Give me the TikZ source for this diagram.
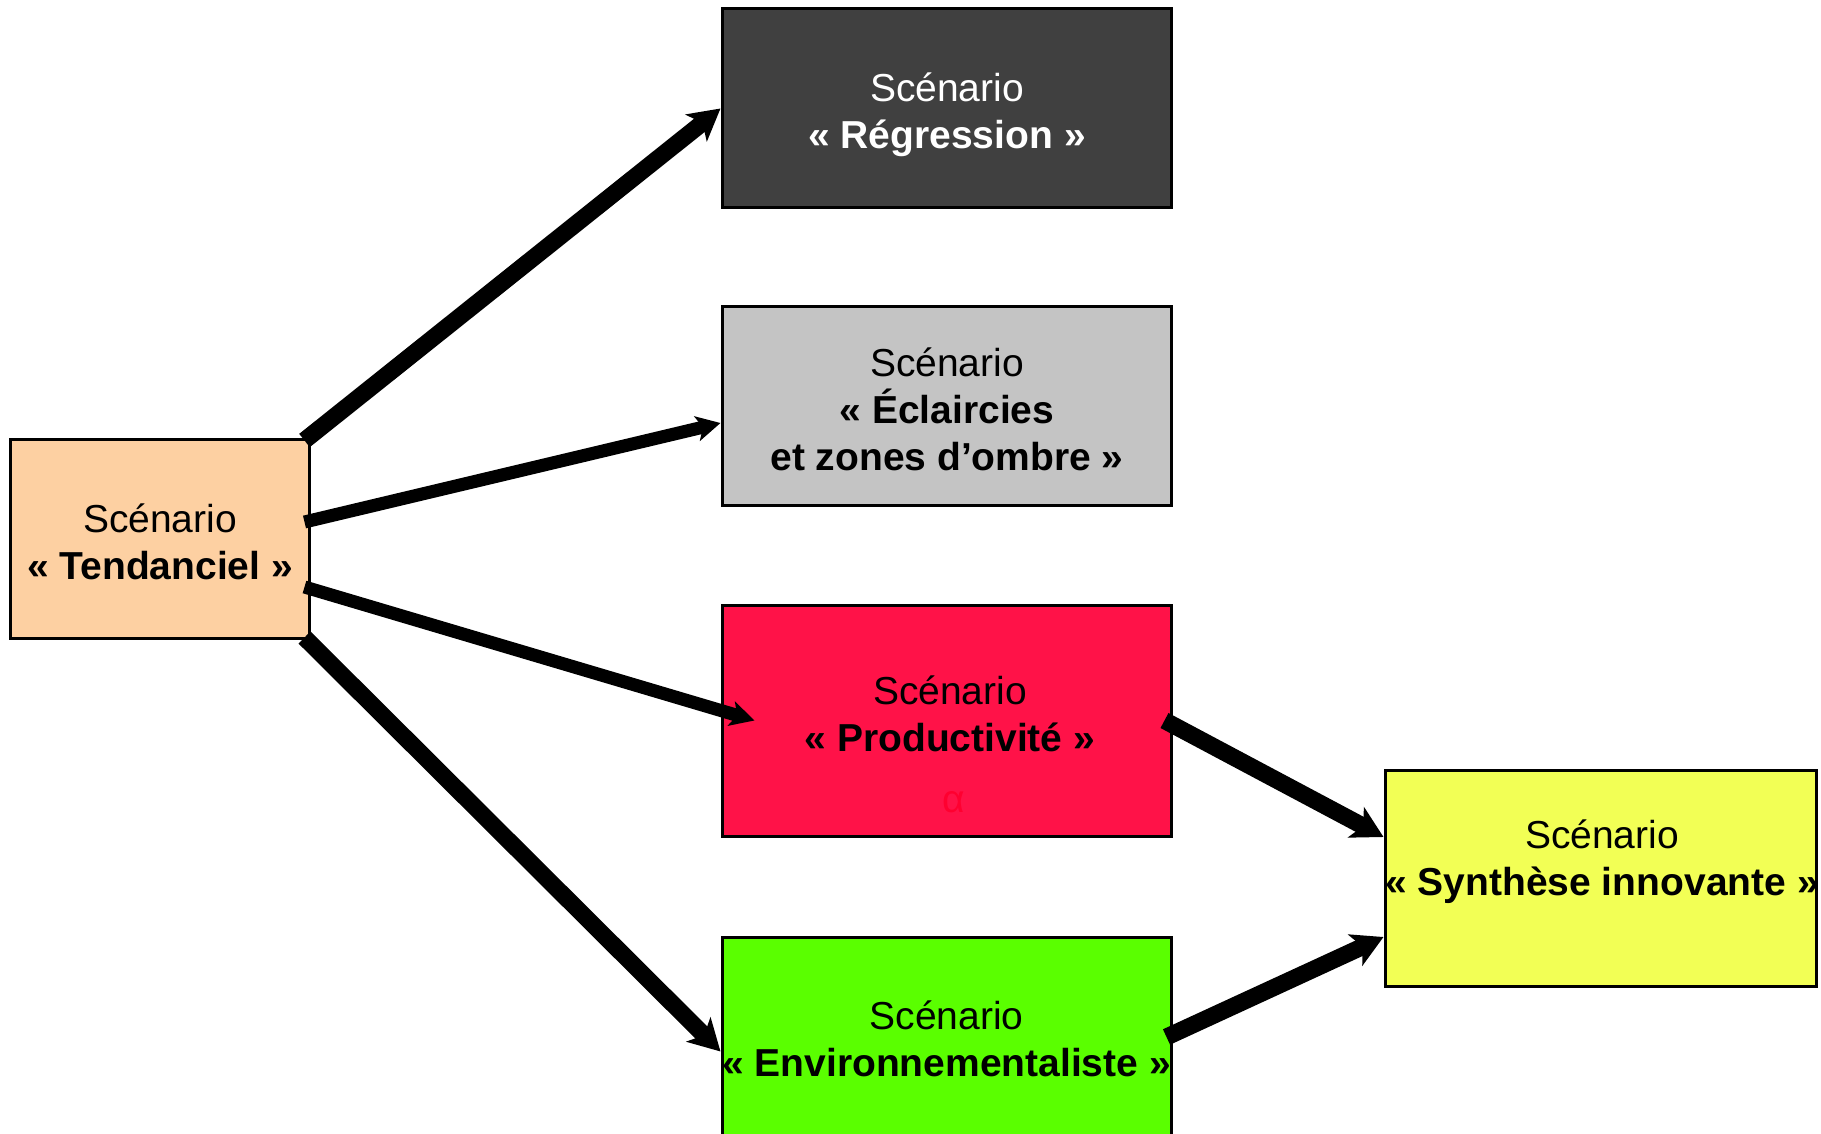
\documentclass[tikz,border=0pt]{standalone}
\usepackage{fontspec}
\setmainfont{Liberation Sans}
\usetikzlibrary{arrows.meta,calc}
\definecolor{tendfill}{RGB}{253,208,162}
\definecolor{regfill}{RGB}{64,64,64}
\definecolor{eclfill}{RGB}{196,196,196}
\definecolor{prodfill}{RGB}{255,18,72}
\definecolor{envfill}{RGB}{90,255,0}
\definecolor{synfill}{RGB}{242,255,85}
\definecolor{alphared}{RGB}{255,0,48}
\tikzset{
  box/.style={draw=black, line width=1.5pt, rectangle, inner sep=0pt},
  txt/.style={inner sep=0pt, align=center, font=\fontsize{19.5pt}{23.5pt}\selectfont},
  thickarrow/.style={line width=8.5pt, -{Stealth[length=15.5pt,width=17pt,inset=4pt]}},
  thinarrow/.style={line width=6.5pt, -{Stealth[length=12pt,width=12.5pt,inset=3pt]}}
}
\begin{document}
\begin{tikzpicture}[x=0.5pt,y=-0.5pt]
\useasboundingbox (0,0) rectangle (1821,1134);
\clip (0,0) rectangle (1821,1134);
\fill[white] (0,0) rectangle (1821,1134);
% boxes
\node[box, fill=tendfill, minimum width=149.5pt, minimum height=99.5pt] (tend) at (159.5,538.5) {};
\node[box, fill=regfill, minimum width=224.5pt, minimum height=99.5pt] (reg) at (946.5,108.5) {};
\node[box, fill=eclfill, minimum width=224.5pt, minimum height=99pt] (ecl) at (946.5,406) {};
\node[box, fill=prodfill, minimum width=224.5pt, minimum height=115.5pt] (prod) at (946.5,720.5) {};
\node[box, fill=envfill, minimum width=224.5pt, minimum height=115.5pt] (env) at (946.5,1052.5) {};
\node[box, fill=synfill, minimum width=215.5pt, minimum height=108pt] (syn) at (1600.5,878) {};
% texts
\node[txt] (tendtxt) at (160,542) {Scénario\\\textbf{«~Tendanciel~»}};
\node[txt, text=white] (regtxt) at (947,115) {Scénario\\\textbf{«~Régression~»}};
\node[txt] (ecltxt) at (947,409) {Scénario\\\textbf{«~Éclaircies}\\\textbf{et zones d’ombre~»}};
\node[txt] (prodtxt) at (950,714) {Scénario\\\textbf{«~Productivité~»}};
\node[txt, text=alphared] (alpha) at (954,802) {α};
\node[txt] (envtxt) at (946.5,1039) {Scénario\\\textbf{«~Environnementaliste~»}};
\node[txt] (syntxt) at (1602,862) {Scénario\\\textbf{«~Synthèse innovante~»}};
% arrows
\draw[thickarrow] ($(tend.north east)+(-6,3)$) -- (reg.west);
\draw[thinarrow] ($(tend.east)+(-6,-16.5)$) -- ($(ecl.west)+(0,17)$);
\draw[thinarrow] ($(tend.east)+(-6,48.5)$) -- ($(prod.west)+(34,0)$);
\draw[thickarrow] ($(tend.south east)+(-6,-2)$) -- ($(env.west)+(0,-1)$);
\draw[thickarrow] ($(prod.east)+(-8,0)$) -- ($(syn.west)+(0,-41)$);
\draw[thickarrow] ($(env.east)+(-6,-15.5)$) -- ($(syn.west)+(0,59)$);
\end{tikzpicture}
\end{document}
